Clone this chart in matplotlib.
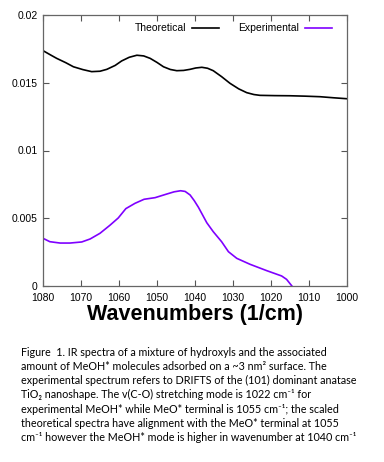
import numpy as np
import matplotlib
matplotlib.use("Agg")
import matplotlib.pyplot as plt

# Data
theo_wn = [1080, 1078, 1076.4, 1074, 1072, 1069.5, 1067.2, 1065, 1063.2, 1061, 1059.3, 1057.3, 1055.3, 1053.5, 1051.8, 1050, 1048.3, 1046.5, 1044.8, 1043, 1041.3, 1039.8, 1038.2, 1036.7, 1035.2, 1033, 1030.8, 1028.5, 1026.4, 1024.5, 1022.9, 1019, 1015, 1011, 1007.1, 1003.5, 1000]
theo_val = [0.01737, 0.01705, 0.01680, 0.01648, 0.01618, 0.01597, 0.01582, 0.01585, 0.01599, 0.01628, 0.01661, 0.01688, 0.01703, 0.01698, 0.01680, 0.01650, 0.01618, 0.01598, 0.01589, 0.01591, 0.01599, 0.01609, 0.01614, 0.01607, 0.01589, 0.01545, 0.01496, 0.01455, 0.01427, 0.01413, 0.01407, 0.01405, 0.01404, 0.01401, 0.01397, 0.01389, 0.01382]

exp_wn = [1080, 1078.2, 1075.5, 1072.9, 1069.8, 1067.6, 1065, 1062.4, 1060.2, 1058.2, 1055.8, 1053.4, 1050.5, 1047.4, 1045.5, 1043.8, 1042.6, 1041.3, 1040.2, 1039.1, 1036.9, 1035.2, 1033, 1031.2, 1029, 1025.5, 1021.1, 1017.2, 1015.9, 1014.5]
exp_val = [0.00352, 0.00327, 0.00317, 0.00317, 0.00325, 0.00347, 0.00389, 0.00448, 0.00502, 0.00571, 0.00610, 0.00640, 0.00652, 0.00679, 0.00695, 0.00703, 0.00698, 0.00672, 0.00630, 0.00581, 0.00467, 0.00401, 0.00327, 0.00253, 0.00204, 0.00160, 0.00113, 0.00074, 0.00049, 0.0]

x_ticks = [1080, 1070, 1060, 1050, 1040, 1030, 1020, 1010, 1000]
y_ticks = [0, 0.005, 0.01, 0.015, 0.02]
y_tick_labels = ["0", "0.005", "0.01", "0.015", "0.02"]

caption_lines = [
    "Figure  1. IR spectra of a mixture of hydroxyls and the associated",
    "amount of MeOH* molecules adsorbed on a ~3 nm\u00b2 surface. The",
    "experimental spectrum refers to DRIFTS of the (101) dominant anatase",
    "TiO\u2082 nanoshape. The v(C-O) stretching mode is 1022 cm\u207b\u00b9 for",
    "experimental MeOH* while MeO* terminal is 1055 cm\u207b\u00b9; the scaled",
    "theoretical spectra have alignment with the MeO* terminal at 1055",
    "cm\u207b\u00b9 however the MeOH* mode is higher in wavenumber at 1040 cm\u207b\u00b9",
]

W, H = 384, 462
fig = plt.figure(figsize=(W / 100, H / 100), dpi=100)
ax = fig.add_axes([43 / W, 1 - 286 / H, (347 - 43) / W, (286 - 15) / H])

ax.plot(theo_wn, theo_val, color='black', lw=1.2, label='Theoretical')
ax.plot(exp_wn, exp_val, color='#7f00ff', lw=1.2, label='Experimental')

ax.set_xlim(1080, 1000)
ax.set_ylim(0, 0.02)
ax.set_xticks(x_ticks)
ax.set_xticklabels([str(t) for t in x_ticks])
ax.set_yticks(y_ticks)
ax.set_yticklabels(y_tick_labels)
ax.tick_params(direction='in', top=True, right=True, length=4, width=0.8,
               labelsize=7.5, color='#555555')
ax.tick_params(axis='x', pad=5)
ax.tick_params(axis='y', pad=4)
for lab in ax.get_xticklabels() + ax.get_yticklabels():
    lab.set_family('Liberation Sans')
for s in ax.spines.values():
    s.set_color('#666666')
    s.set_linewidth(0.9)

ax.set_xlabel("Wavenumbers (1/cm)", fontsize=15.5, fontweight='bold',
              family='Liberation Sans', labelpad=1)

leg = ax.legend(loc='upper right', ncol=2, markerfirst=False, frameon=False,
                handlelength=2.6, columnspacing=1.8,
                handletextpad=0.6, borderaxespad=0.0,
                bbox_to_anchor=(0.965, 0.985),
                prop={'family': 'Liberation Sans', 'size': 7.5})

y0 = 352
for i, line in enumerate(caption_lines):
    fig.text(21 / W, 1 - (y0 + i * 14.3) / H, line, fontsize=7.75,
             family=['Lato', 'DejaVu Sans'], va='center', ha='left')

fig.savefig('out.png', dpi=100)
